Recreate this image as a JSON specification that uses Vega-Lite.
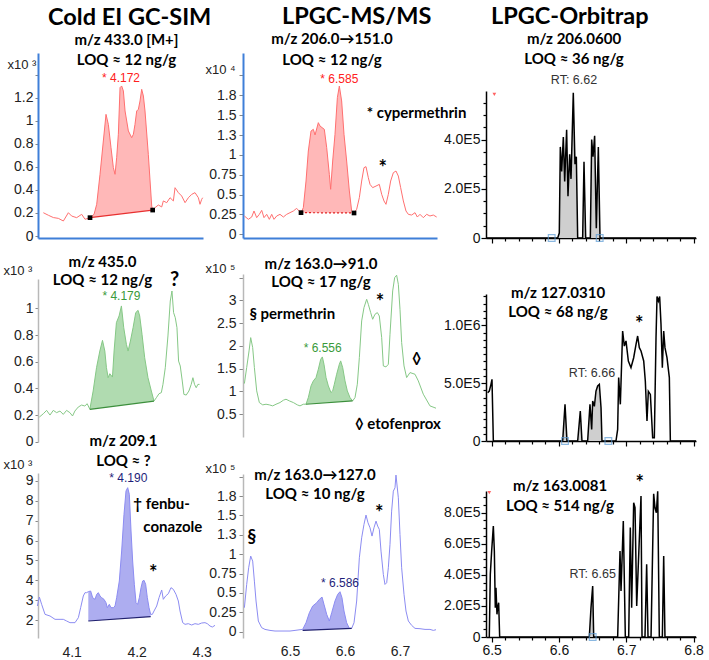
{
 "$schema": "https://vega.github.io/schema/vega-lite/v6.json",
 "background": "white",
 "padding": {"left": 3, "top": 4, "right": 2, "bottom": 2},
 "config": {
  "view": {"stroke": null},
  "axis": {"grid": false, "labelFont": "Liberation Sans", "labelFontSize": 14, "labelColor": "#222", "labelOverlap": false, "labelFlush": false, "titleFont": "Liberation Sans", "titleFontSize": 13, "titleFontWeight": "normal", "titleColor": "#222", "tickColor": "#888"},
  "axisY": {"titleAngle": 0, "titleAlign": "left", "titleBaseline": "alphabetic"},
  "title": {"font": "Lato", "fontWeight": "bold", "color": "#000", "anchor": "middle"}
 },
 "hconcat": [
  {"hconcat": [
   {"title": {"text": "Cold EI GC-SIM", "fontSize": 23.5, "frame": "group", "anchor": "start", "dx": 10, "offset": 4},
    "spacing": 41, "bounds": "flush",
    "vconcat": [
     {"width": 165, "height": 185,
      "title": {"text": ["m/z 433.0 [M+]", "LOQ ≈ 12 ng/g"], "fontSize": 15, "lineHeight": 20, "frame": "group", "dx": 6, "offset": -15},
      "data": {"values": [
       {"x":4.0564,"y":0.202},{"x":4.0641,"y":0.18},{"x":4.0718,"y":0.16},{"x":4.0795,"y":0.153},{"x":4.0872,"y":0.13},{"x":4.0949,"y":0.202},{"x":4.1,"y":0.173},{"x":4.1077,"y":0.159},{"x":4.1154,"y":0.188},{"x":4.1205,"y":0.145},
       {"x":4.1282,"y":0.159,"b":0.159},{"x":4.1344,"y":0.188,"b":0.163},{"x":4.1385,"y":0.275,"b":0.166},{"x":4.1436,"y":0.535,"b":0.17},{"x":4.1487,"y":0.824,"b":0.173},{"x":4.1528,"y":1.055,"b":0.176},{"x":4.1564,"y":0.968,"b":0.178},{"x":4.1605,"y":0.766,"b":0.181},{"x":4.1641,"y":0.593,"b":0.184},{"x":4.1667,"y":0.535,"b":0.185},{"x":4.1692,"y":0.679,"b":0.187},{"x":4.1718,"y":0.882,"b":0.189},{"x":4.1744,"y":1.287,"b":0.191},{"x":4.1769,"y":1.301,"b":0.192},{"x":4.1795,"y":1.258,"b":0.194},{"x":4.1821,"y":1.084,"b":0.196},{"x":4.1872,"y":0.911,"b":0.199},{"x":4.1923,"y":0.853,"b":0.203},{"x":4.1949,"y":0.882,"b":0.205},{"x":4.1974,"y":0.968,"b":0.206},{"x":4.2,"y":1.084,"b":0.208},{"x":4.2026,"y":1.099,"b":0.21},{"x":4.2051,"y":1.171,"b":0.212},{"x":4.2077,"y":1.272,"b":0.214},{"x":4.2103,"y":1.214,"b":0.215},{"x":4.2128,"y":1.084,"b":0.217},{"x":4.2179,"y":0.708,"b":0.22},{"x":4.2231,"y":0.26,"b":0.224},{"x":4.2246,"y":0.225,"b":0.225},
       {"x":4.2282,"y":0.246},{"x":4.2333,"y":0.269},{"x":4.2385,"y":0.252},{"x":4.241,"y":0.304},{"x":4.2462,"y":0.289},{"x":4.2513,"y":0.332},{"x":4.2564,"y":0.304},{"x":4.259,"y":0.419},{"x":4.2641,"y":0.376},{"x":4.2692,"y":0.347},{"x":4.2744,"y":0.289},{"x":4.2795,"y":0.332},{"x":4.2846,"y":0.361},{"x":4.2897,"y":0.376},{"x":4.2949,"y":0.332},{"x":4.2974,"y":0.275},{"x":4.3,"y":0.318},{"x":4.3015,"y":0.332}
      ]},
      "encoding": {
       "x": {"field": "x", "type": "quantitative", "scale": {"domain": [4.0482, 4.302], "nice": false, "zero": false}, "axis": {"title": null, "labels": false, "ticks": false, "domainColor": "#3f7fd8", "domainWidth": 2}},
       "y": {"field": "y", "type": "quantitative", "scale": {"domain": [-0.0173, 1.587], "nice": false, "zero": false}, "axis": {"title": "x10 ³", "titleX": -31, "titleY": 15, "values": [0,0.2,0.4,0.6,0.8,1,1.2,1.4], "format": "~g", "labelExpr": "datum.value > 1.3 ? '' : datum.label", "domainColor": "#3f7fd8", "domainWidth": 2, "tickSize": 3, "labelPadding": 2}}
      },
      "layer": [
       {"transform": [{"filter": "isValid(datum.b)"}], "mark": {"type": "area", "color": "#ffb0b0", "opacity": 0.9}, "encoding": {"y2": {"field": "b"}}},
       {"mark": {"type": "line", "color": "#ff7070", "strokeWidth": 1}, "encoding": {}},
       {"data": {"values": [{"x": 4.1282, "y": 0.159, "x2": 4.2246, "y2": 0.225}]}, "mark": {"type": "rule", "color": "#e83030", "strokeWidth": 1.2}, "encoding": {"x2": {"field": "x2"}, "y2": {"field": "y2"}}},
       {"data": {"values": [{"x": 4.1282, "y": 0.159}, {"x": 4.2246, "y": 0.225}]}, "mark": {"type": "square", "color": "#000", "size": 22, "opacity": 1}},
       {"data": {"values": [{"x": 4.1759, "y": 1.373, "t": "* 4.172"}]}, "mark": {"type": "text", "color": "#ff2020", "font": "Liberation Sans", "fontSize": 12}, "encoding": {"text": {"field": "t"}}}
      ]
     },
     {"vconcat": [
      {"width": 163, "height": 163,
       "title": {"text": ["m/z 435.0", "LOQ ≈ 12 ng/g"], "fontSize": 15, "lineHeight": 18, "frame": "group", "dx": -17, "offset": -24},
       "data": {"values": [
        {"x":4.0503,"y":0.185},{"x":4.0564,"y":0.21},{"x":4.0615,"y":0.235},{"x":4.0667,"y":0.2},{"x":4.0718,"y":0.235},{"x":4.0769,"y":0.218},{"x":4.0821,"y":0.23},{"x":4.0872,"y":0.205},{"x":4.0923,"y":0.235},{"x":4.0974,"y":0.218},{"x":4.1015,"y":0.193},{"x":4.1051,"y":0.23},{"x":4.1103,"y":0.26},{"x":4.1154,"y":0.275},{"x":4.1205,"y":0.268},{"x":4.1241,"y":0.285},
        {"x":4.1282,"y":0.243,"b":0.243},{"x":4.1333,"y":0.38,"b":0.246},{"x":4.1385,"y":0.555,"b":0.249},{"x":4.1436,"y":0.68,"b":0.253},{"x":4.1477,"y":0.76,"b":0.255},{"x":4.1513,"y":0.68,"b":0.257},{"x":4.1538,"y":0.555,"b":0.259},{"x":4.1564,"y":0.48,"b":0.261},{"x":4.159,"y":0.51,"b":0.262},{"x":4.1631,"y":0.485,"b":0.265},{"x":4.1656,"y":0.68,"b":0.266},{"x":4.1692,"y":0.893,"b":0.269},{"x":4.1733,"y":0.943,"b":0.271},{"x":4.1769,"y":1.018,"b":0.273},{"x":4.1805,"y":0.855,"b":0.276},{"x":4.1846,"y":0.73,"b":0.278},{"x":4.1872,"y":0.68,"b":0.28},{"x":4.1908,"y":0.755,"b":0.282},{"x":4.1949,"y":0.855,"b":0.285},{"x":4.199,"y":0.968,"b":0.287},{"x":4.2026,"y":0.985,"b":0.29},{"x":4.2051,"y":0.943,"b":0.291},{"x":4.2087,"y":0.805,"b":0.293},{"x":4.2128,"y":0.63,"b":0.296},{"x":4.2179,"y":0.48,"b":0.299},{"x":4.2231,"y":0.38,"b":0.302},{"x":4.2272,"y":0.305,"b":0.305},
        {"x":4.2308,"y":0.33},{"x":4.2349,"y":0.36},{"x":4.2385,"y":0.368},{"x":4.241,"y":0.43},{"x":4.2446,"y":0.555},{"x":4.2487,"y":0.793},{"x":4.2523,"y":1.055},{"x":4.2549,"y":1.13},{"x":4.2574,"y":0.968},{"x":4.26,"y":0.93},{"x":4.2626,"y":0.855},{"x":4.2651,"y":0.605},{"x":4.2677,"y":0.568},{"x":4.2708,"y":0.455},{"x":4.2733,"y":0.355},{"x":4.2769,"y":0.35},{"x":4.281,"y":0.38},{"x":4.2846,"y":0.43},{"x":4.2872,"y":0.48},{"x":4.2897,"y":0.43},{"x":4.2923,"y":0.405},{"x":4.2949,"y":0.43},{"x":4.2974,"y":0.43}
       ]},
       "encoding": {
        "x": {"field": "x", "type": "quantitative", "scale": {"domain": [4.0482, 4.2997], "nice": false, "zero": false}, "axis": null},
        "y": {"field": "y", "type": "quantitative", "scale": {"domain": [-0.002, 1.22], "nice": false, "zero": false}, "axis": {"title": "x10 ³", "titleX": -35, "titleY": -5, "values": [0,0.2,0.4,0.6,0.8,1], "format": "~g", "domainColor": "#b8b8b8", "domainWidth": 1.5, "tickSize": 3, "labelPadding": 2}}
       },
       "layer": [
        {"transform": [{"filter": "isValid(datum.b)"}], "mark": {"type": "area", "color": "#acd9ac", "opacity": 0.95}, "encoding": {"y2": {"field": "b"}}},
        {"mark": {"type": "line", "color": "#86c886", "strokeWidth": 1}, "encoding": {}},
        {"data": {"values": [{"x": 4.1282, "y": 0.243, "x2": 4.2272, "y2": 0.305}]}, "mark": {"type": "rule", "color": "#3c8f3c", "strokeWidth": 1.2}, "encoding": {"x2": {"field": "x2"}, "y2": {"field": "y2"}}},
        {"data": {"values": [{"x": 4.1769, "y": 1.09, "t": "* 4.179"}]}, "mark": {"type": "text", "color": "#3a9a3a", "font": "Liberation Sans", "fontSize": 12}, "encoding": {"text": {"field": "t"}}},
        {"data": {"values": [{"x": 4.259, "y": 1.21, "t": "?"}]}, "mark": {"type": "text", "color": "#000", "font": "Lato", "fontWeight": "bold", "fontSize": 20}, "encoding": {"text": {"field": "t"}}}
       ]
      },
      {"width": 177, "height": 165,
       "title": {"text": ["m/z 209.1", "LOQ ≈ ?"], "fontSize": 15, "lineHeight": 20, "frame": "group", "dx": -3, "offset": -11},
       "data": {"values": [
        {"x":4.0472,"y":2.705},{"x":4.0503,"y":3.158},{"x":4.0538,"y":2.789},{"x":4.059,"y":2.285},{"x":4.0667,"y":2.201},{"x":4.0744,"y":2.034},{"x":4.0821,"y":2.034},{"x":4.0872,"y":2.034},{"x":4.0923,"y":1.95},{"x":4.0974,"y":1.866},{"x":4.1051,"y":1.866},{"x":4.1103,"y":2.118},{"x":4.1138,"y":2.621},{"x":4.1179,"y":3.209},{"x":4.1205,"y":3.377},{"x":4.1231,"y":3.377},
        {"x":4.1256,"y":3.427,"b":1.95},{"x":4.1292,"y":3.46,"b":1.958},{"x":4.1323,"y":3.125,"b":1.965},{"x":4.1359,"y":3.041,"b":1.973},{"x":4.1385,"y":3.293,"b":1.979},{"x":4.141,"y":3.377,"b":1.985},{"x":4.1436,"y":3.209,"b":1.991},{"x":4.1462,"y":3.125,"b":1.997},{"x":4.1497,"y":3.041,"b":2.005},{"x":4.1528,"y":2.873,"b":2.012},{"x":4.1549,"y":2.621,"b":2.017},{"x":4.1579,"y":2.789,"b":2.023},{"x":4.1605,"y":2.621,"b":2.029},{"x":4.1641,"y":2.621,"b":2.038},{"x":4.1667,"y":2.705,"b":2.043},{"x":4.1692,"y":3.125,"b":2.049},{"x":4.1733,"y":3.964,"b":2.058},{"x":4.1769,"y":5.475,"b":2.067},{"x":4.1805,"y":7.321,"b":2.075},{"x":4.1836,"y":8.497,"b":2.082},{"x":4.1862,"y":8.664,"b":2.088},{"x":4.1887,"y":8.329,"b":2.093},{"x":4.1913,"y":6.482,"b":2.099},{"x":4.1938,"y":4.971,"b":2.105},{"x":4.1964,"y":3.796,"b":2.111},{"x":4.199,"y":2.873,"b":2.117},{"x":4.2015,"y":2.789,"b":2.123},{"x":4.2041,"y":3.125,"b":2.128},{"x":4.2067,"y":3.628,"b":2.134},{"x":4.2092,"y":3.964,"b":2.14},{"x":4.2113,"y":3.998,"b":2.145},{"x":4.2138,"y":3.796,"b":2.15},{"x":4.2164,"y":3.125,"b":2.156},{"x":4.219,"y":2.621,"b":2.162},{"x":4.2215,"y":2.285,"b":2.168},
        {"x":4.2241,"y":2.285},{"x":4.2267,"y":2.453},{"x":4.2308,"y":2.705},{"x":4.2344,"y":3.125},{"x":4.2385,"y":3.511},{"x":4.241,"y":3.041},{"x":4.2446,"y":3.209},{"x":4.2487,"y":3.326},{"x":4.2528,"y":3.628},{"x":4.2564,"y":3.544},{"x":4.2605,"y":3.293},{"x":4.2641,"y":2.957},{"x":4.2667,"y":2.453},{"x":4.2708,"y":1.866},{"x":4.2744,"y":1.782},{"x":4.2795,"y":1.815},{"x":4.2846,"y":1.748},{"x":4.2897,"y":1.815},{"x":4.2949,"y":1.782},{"x":4.3,"y":1.849},{"x":4.3051,"y":1.866},{"x":4.3087,"y":1.815},{"x":4.3128,"y":1.698},{"x":4.3164,"y":1.647},{"x":4.3205,"y":1.731}
       ]},
       "encoding": {
        "x": {"field": "x", "type": "quantitative", "scale": {"domain": [4.0482, 4.3205], "nice": false, "zero": false}, "axis": {"title": null, "values": [4.1, 4.2, 4.3], "format": "~g", "domain": false, "ticks": false, "tickSize": 0, "labelPadding": 7}},
        "y": {"field": "y", "type": "quantitative", "scale": {"domain": [1.094, 9.402], "nice": false, "zero": false}, "axis": {"title": "x10 ³", "titleX": -35, "titleY": -5, "values": [2,3,4,5,6,7,8,9], "format": "~g", "domainColor": "#b8b8b8", "domainWidth": 1.5, "tickSize": 3, "labelPadding": 2}}
       },
       "layer": [
        {"transform": [{"filter": "isValid(datum.b)"}], "mark": {"type": "area", "color": "#a9a9ef", "opacity": 0.95}, "encoding": {"y2": {"field": "b"}}},
        {"mark": {"type": "line", "color": "#8c8cf2", "strokeWidth": 1}, "encoding": {}},
        {"data": {"values": [{"x": 4.1256, "y": 1.95, "x2": 4.2215, "y2": 2.168}]}, "mark": {"type": "rule", "color": "#20206e", "strokeWidth": 1.2}, "encoding": {"x2": {"field": "x2"}, "y2": {"field": "y2"}}},
        {"data": {"values": [{"x": 4.1872, "y": 9.17, "t": "* 4.190"}]}, "mark": {"type": "text", "color": "#1e1e7a", "font": "Liberation Sans", "fontSize": 12}, "encoding": {"text": {"field": "t"}}},
        {"data": {"values": [{"x": 4.1949, "y": 7.825, "t": "† fenbu-"}, {"x": 4.2103, "y": 6.684, "t": "conazole"}]}, "mark": {"type": "text", "align": "left", "color": "#000", "font": "Lato", "fontWeight": "bold", "fontSize": 15}, "encoding": {"text": {"field": "t"}}},
        {"data": {"values": [{"x": 4.2256, "y": 4.55, "t": "*"}]}, "mark": {"type": "text", "color": "#000", "font": "Lato", "fontWeight": "bold", "fontSize": 20, "dy": 5}, "encoding": {"text": {"field": "t"}}}
       ]
      }
     ], "spacing": 31, "bounds": "flush"}
    ]
   },
   {"title": {"text": "LPGC-MS/MS", "fontSize": 23.5, "frame": "group", "anchor": "start", "dx": 39, "offset": 4},
    "spacing": 36, "bounds": "flush",
    "vconcat": [
     {"width": 194, "height": 185,
      "title": {"text": ["m/z 206.0→151.0", "LOQ ≈ 12 ng/g"], "fontSize": 15, "lineHeight": 21, "frame": "group", "dx": -8, "offset": -15},
      "data": {"values": [
       {"x":6.417,"y":0.231},{"x":6.4242,"y":0.189},{"x":6.4303,"y":0.218},{"x":6.4345,"y":0.294},{"x":6.4394,"y":0.21},{"x":6.4442,"y":0.252},{"x":6.4485,"y":0.302},{"x":6.4527,"y":0.21},{"x":6.4576,"y":0.252},{"x":6.4624,"y":0.189},{"x":6.4667,"y":0.252},{"x":6.4709,"y":0.189},{"x":6.4758,"y":0.231},{"x":6.4818,"y":0.252},{"x":6.4879,"y":0.218},{"x":6.4939,"y":0.252},{"x":6.5,"y":0.273},{"x":6.5061,"y":0.294},{"x":6.5121,"y":0.327},{"x":6.5164,"y":0.294},
       {"x":6.52,"y":0.273,"b":0.273},{"x":6.5242,"y":0.336,"b":0.273},{"x":6.5291,"y":0.671,"b":0.273},{"x":6.5333,"y":1.049,"b":0.272},{"x":6.5382,"y":1.301,"b":0.272},{"x":6.5424,"y":1.322,"b":0.272},{"x":6.5455,"y":1.251,"b":0.272},{"x":6.5515,"y":1.406,"b":0.271},{"x":6.5545,"y":1.364,"b":0.271},{"x":6.5624,"y":1.322,"b":0.271},{"x":6.5667,"y":1.091,"b":0.271},{"x":6.5715,"y":0.755,"b":0.27},{"x":6.5739,"y":0.567,"b":0.27},{"x":6.5776,"y":0.923,"b":0.27},{"x":6.5818,"y":1.259,"b":0.27},{"x":6.5861,"y":1.721,"b":0.27},{"x":6.5897,"y":1.867,"b":0.27},{"x":6.5939,"y":1.679,"b":0.27},{"x":6.5982,"y":1.259,"b":0.269},{"x":6.603,"y":0.923,"b":0.269},{"x":6.6079,"y":0.546,"b":0.269},{"x":6.6121,"y":0.294,"b":0.269},{"x":6.6164,"y":0.269,"b":0.269},
       {"x":6.6212,"y":0.315},{"x":6.6261,"y":0.462},{"x":6.6303,"y":0.671},{"x":6.6345,"y":0.839},{"x":6.6382,"y":0.852},{"x":6.6424,"y":0.713},{"x":6.6455,"y":0.629},{"x":6.6503,"y":0.588},{"x":6.6564,"y":0.608},{"x":6.6624,"y":0.629},{"x":6.6667,"y":0.504},{"x":6.6709,"y":0.42},{"x":6.6745,"y":0.378},{"x":6.6788,"y":0.504},{"x":6.683,"y":0.671},{"x":6.6879,"y":0.776},{"x":6.6927,"y":0.797},{"x":6.697,"y":0.734},{"x":6.7012,"y":0.588},{"x":6.7061,"y":0.42},{"x":6.7109,"y":0.294},{"x":6.7152,"y":0.252},{"x":6.7212,"y":0.243},{"x":6.7273,"y":0.273},{"x":6.7315,"y":0.218},{"x":6.7364,"y":0.252},{"x":6.7424,"y":0.21},{"x":6.7485,"y":0.252},{"x":6.7545,"y":0.231},{"x":6.7606,"y":0.243},{"x":6.7667,"y":0.218}
      ]},
      "encoding": {
       "x": {"field": "x", "type": "quantitative", "scale": {"domain": [6.4145, 6.7673], "nice": false, "zero": false}, "axis": {"title": null, "labels": false, "ticks": false, "domainColor": "#3f7fd8", "domainWidth": 2}},
       "y": {"field": "y", "type": "quantitative", "scale": {"domain": [-0.046, 2.283], "nice": false, "zero": false}, "axis": {"title": "x10 ⁴", "titleX": -38, "titleY": 20, "values": [0,0.25,0.5,0.75,1,1.25,1.5,1.75,2], "format": "~g", "labelExpr": "datum.value > 1.9 ? '' : datum.label", "domainColor": "#3f7fd8", "domainWidth": 2, "tickSize": 4, "labelPadding": 3}}
      },
      "layer": [
       {"transform": [{"filter": "isValid(datum.b)"}], "mark": {"type": "area", "color": "#ffb0b0", "opacity": 0.9}, "encoding": {"y2": {"field": "b"}}},
       {"mark": {"type": "line", "color": "#ff7070", "strokeWidth": 1}, "encoding": {}},
       {"data": {"values": [{"x": 6.52, "y": 0.273, "x2": 6.6164, "y2": 0.269}]}, "mark": {"type": "rule", "color": "#e02020", "strokeWidth": 1.2, "strokeDash": [2, 2]}, "encoding": {"x2": {"field": "x2"}, "y2": {"field": "y2"}}},
       {"data": {"values": [{"x": 6.52, "y": 0.273}, {"x": 6.6164, "y": 0.269}]}, "mark": {"type": "square", "color": "#000", "size": 22, "opacity": 1}},
       {"data": {"values": [{"x": 6.5897, "y": 1.951, "t": "* 6.585"}]}, "mark": {"type": "text", "color": "#ff2020", "font": "Liberation Sans", "fontSize": 12}, "encoding": {"text": {"field": "t"}}},
       {"data": {"values": [{"x": 6.6394, "y": 1.53, "t": "* cypermethrin"}]}, "mark": {"type": "text", "align": "left", "color": "#000", "font": "Lato", "fontWeight": "bold", "fontSize": 15}, "encoding": {"text": {"field": "t"}}},
       {"data": {"values": [{"x": 6.6685, "y": 0.88, "t": "*"}]}, "mark": {"type": "text", "color": "#000", "font": "Lato", "fontWeight": "bold", "fontSize": 20, "dy": 5}, "encoding": {"text": {"field": "t"}}}
      ]
     },
     {"vconcat": [
      {"width": 194, "height": 163,
       "title": {"text": ["m/z 163.0→91.0", "LOQ ≈ 17 ng/g"], "fontSize": 15, "lineHeight": 18, "frame": "group", "dx": -19, "offset": -28},
       "data": {"values": [
        {"x":6.417,"y":1.173},{"x":6.4212,"y":1.523},{"x":6.4255,"y":1.889},{"x":6.4285,"y":2.181},{"x":6.4321,"y":1.962},{"x":6.4352,"y":1.523},{"x":6.4394,"y":1.012},{"x":6.4442,"y":0.756},{"x":6.4503,"y":0.705},{"x":6.4564,"y":0.719},{"x":6.4624,"y":0.705},{"x":6.4685,"y":0.683},{"x":6.4745,"y":0.719},{"x":6.4818,"y":0.756},{"x":6.4879,"y":0.807},{"x":6.4927,"y":0.829},{"x":6.4988,"y":0.792},{"x":6.5061,"y":0.756},{"x":6.5133,"y":0.705},{"x":6.5182,"y":0.683},{"x":6.5242,"y":0.719},
        {"x":6.5291,"y":0.72,"b":0.719},{"x":6.5333,"y":0.865,"b":0.723},{"x":6.5382,"y":1.121,"b":0.727},{"x":6.5424,"y":1.231,"b":0.73},{"x":6.5473,"y":1.304,"b":0.735},{"x":6.5515,"y":1.487,"b":0.738},{"x":6.5558,"y":1.706,"b":0.742},{"x":6.5588,"y":1.757,"b":0.745},{"x":6.5618,"y":1.596,"b":0.747},{"x":6.5655,"y":1.304,"b":0.75},{"x":6.5697,"y":1.121,"b":0.754},{"x":6.5745,"y":0.975,"b":0.758},{"x":6.5776,"y":1.012,"b":0.761},{"x":6.5806,"y":1.158,"b":0.763},{"x":6.5848,"y":1.377,"b":0.767},{"x":6.5897,"y":1.596,"b":0.771},{"x":6.5921,"y":1.67,"b":0.773},{"x":6.5958,"y":1.523,"b":0.776},{"x":6.6,"y":1.231,"b":0.78},{"x":6.6042,"y":1.012,"b":0.784},{"x":6.6091,"y":0.865,"b":0.788},{"x":6.6139,"y":0.792,"b":0.792},
        {"x":6.6182,"y":0.865},{"x":6.6224,"y":1.158},{"x":6.6261,"y":1.743},{"x":6.6303,"y":2.547},{"x":6.6345,"y":2.839},{"x":6.6394,"y":3.022},{"x":6.6424,"y":2.912},{"x":6.6467,"y":2.73},{"x":6.6503,"y":2.583},{"x":6.6545,"y":2.693},{"x":6.6588,"y":2.73},{"x":6.6624,"y":2.656},{"x":6.6667,"y":2.181},{"x":6.6697,"y":1.56},{"x":6.6745,"y":1.538},{"x":6.6788,"y":1.596},{"x":6.6818,"y":2.254},{"x":6.6867,"y":3.205},{"x":6.6903,"y":3.497},{"x":6.6939,"y":3.55},{"x":6.697,"y":3.351},{"x":6.7,"y":2.803},{"x":6.703,"y":2.072},{"x":6.7073,"y":1.56},{"x":6.7121,"y":1.304},{"x":6.7182,"y":1.414},{"x":6.7273,"y":1.377},{"x":6.7333,"y":1.231},{"x":6.7424,"y":0.939},{"x":6.7545,"y":0.683},{"x":6.7655,"y":0.632}
       ]},
       "encoding": {
        "x": {"field": "x", "type": "quantitative", "scale": {"domain": [6.4145, 6.7673], "nice": false, "zero": false}, "axis": null},
        "y": {"field": "y", "type": "quantitative", "scale": {"domain": [0, 3.577], "nice": false, "zero": false}, "axis": {"title": "x10 ⁵", "titleX": -38, "titleY": -2, "values": [0.5,1,1.5,2,2.5,3,3.5], "format": "~g", "labelExpr": "datum.value > 3.2 ? '' : datum.label", "domainColor": "#b8b8b8", "domainWidth": 1.5, "tickSize": 4, "labelPadding": 3}}
       },
       "layer": [
        {"transform": [{"filter": "isValid(datum.b)"}], "mark": {"type": "area", "color": "#acd9ac", "opacity": 0.95}, "encoding": {"y2": {"field": "b"}}},
        {"mark": {"type": "line", "color": "#86c886", "strokeWidth": 1}, "encoding": {}},
        {"data": {"values": [{"x": 6.5291, "y": 0.719, "x2": 6.6139, "y2": 0.792}]}, "mark": {"type": "rule", "color": "#3c8f3c", "strokeWidth": 1.2}, "encoding": {"x2": {"field": "x2"}, "y2": {"field": "y2"}}},
        {"data": {"values": [{"x": 6.5594, "y": 1.962, "t": "* 6.556"}]}, "mark": {"type": "text", "color": "#3a9a3a", "font": "Liberation Sans", "fontSize": 12}, "encoding": {"text": {"field": "t"}}},
        {"data": {"values": [{"x": 6.4261, "y": 2.693, "t": "§ permethrin"}, {"x": 6.6182, "y": 0.28, "t": "◊ etofenprox"}]}, "mark": {"type": "text", "align": "left", "color": "#000", "font": "Lato", "fontWeight": "bold", "fontSize": 15}, "encoding": {"text": {"field": "t"}}},
        {"data": {"values": [{"x": 6.7303, "y": 1.706, "t": "◊"}]}, "mark": {"type": "text", "color": "#000", "font": "Lato", "fontWeight": "bold", "fontSize": 16}, "encoding": {"text": {"field": "t"}}},
        {"data": {"values": [{"x": 6.6636, "y": 3.058, "t": "*"}]}, "mark": {"type": "text", "color": "#000", "font": "Lato", "fontWeight": "bold", "fontSize": 20, "dy": 5}, "encoding": {"text": {"field": "t"}}}
       ]
      },
      {"width": 194, "height": 164,
       "title": {"text": ["m/z 163.0→127.0", "LOQ ≈ 10 ng/g"], "fontSize": 15, "lineHeight": 19, "frame": "group", "dx": -25, "offset": -40},
       "data": {"values": [
        {"x":6.417,"y":0.31},{"x":6.4212,"y":0.61},{"x":6.4248,"y":0.825},{"x":6.4285,"y":0.976},{"x":6.4321,"y":0.911},{"x":6.4352,"y":0.653},{"x":6.4382,"y":0.396},{"x":6.4424,"y":0.138},{"x":6.4485,"y":0.052},{"x":6.4545,"y":0.03},{"x":6.4636,"y":0.017},{"x":6.4727,"y":0.009},{"x":6.4818,"y":0.009},{"x":6.4909,"y":0.009},{"x":6.5,"y":0.009},{"x":6.5091,"y":0.017},{"x":6.5182,"y":0.026},
        {"x":6.523,"y":0.03,"b":0.017},{"x":6.5291,"y":0.116,"b":0.019},{"x":6.5352,"y":0.245,"b":0.021},{"x":6.5412,"y":0.331,"b":0.022},{"x":6.5485,"y":0.374,"b":0.024},{"x":6.5533,"y":0.417,"b":0.026},{"x":6.5582,"y":0.447,"b":0.027},{"x":6.5618,"y":0.353,"b":0.028},{"x":6.5667,"y":0.224,"b":0.03},{"x":6.5715,"y":0.138,"b":0.031},{"x":6.5758,"y":0.245,"b":0.032},{"x":6.5818,"y":0.396,"b":0.034},{"x":6.5867,"y":0.482,"b":0.036},{"x":6.5909,"y":0.516,"b":0.037},{"x":6.5945,"y":0.439,"b":0.038},{"x":6.5982,"y":0.267,"b":0.039},{"x":6.603,"y":0.116,"b":0.04},{"x":6.6079,"y":0.043,"b":0.042},{"x":6.6121,"y":0.043,"b":0.043},
        {"x":6.6164,"y":0.116},{"x":6.6212,"y":0.396},{"x":6.6261,"y":0.954},{"x":6.6303,"y":1.212},{"x":6.6345,"y":1.384},{"x":6.6382,"y":1.505},{"x":6.6418,"y":1.406},{"x":6.6455,"y":1.341},{"x":6.6491,"y":1.234},{"x":6.6527,"y":1.341},{"x":6.6564,"y":1.427},{"x":6.6594,"y":1.363},{"x":6.6624,"y":1.32},{"x":6.6655,"y":1.04},{"x":6.6697,"y":0.739},{"x":6.6727,"y":0.61},{"x":6.6758,"y":0.632},{"x":6.6788,"y":0.825},{"x":6.6818,"y":1.126},{"x":6.6848,"y":1.556},{"x":6.6879,"y":1.814},{"x":6.6909,"y":1.857},{"x":6.6927,"y":2.021},{"x":6.697,"y":1.728},{"x":6.7,"y":1.255},{"x":6.703,"y":0.825},{"x":6.7073,"y":0.482},{"x":6.7109,"y":0.267},{"x":6.7152,"y":0.138},{"x":6.7212,"y":0.082},{"x":6.7273,"y":0.043},{"x":6.7364,"y":0.039},{"x":6.7455,"y":0.03},{"x":6.7545,"y":0.03},{"x":6.7606,"y":0.017},{"x":6.7655,"y":0.026}
       ]},
       "encoding": {
        "x": {"field": "x", "type": "quantitative", "scale": {"domain": [6.4145, 6.7673], "nice": false, "zero": false}, "axis": {"title": null, "values": [6.5, 6.6, 6.7], "format": "~g", "domain": false, "ticks": false, "tickSize": 0, "labelPadding": 6}},
        "y": {"field": "y", "type": "quantitative", "scale": {"domain": [-0.081, 2.035], "nice": false, "zero": false}, "axis": {"title": "x10 ⁵", "titleX": -38, "titleY": -2, "values": [0,0.25,0.5,0.75,1,1.25,1.5,1.75,2], "format": "~g", "labelExpr": "datum.value > 1.9 ? '' : datum.label", "domainColor": "#b8b8b8", "domainWidth": 1.5, "tickSize": 4, "labelPadding": 3}}
       },
       "layer": [
        {"transform": [{"filter": "isValid(datum.b)"}], "mark": {"type": "area", "color": "#a9a9ef", "opacity": 0.95}, "encoding": {"y2": {"field": "b"}}},
        {"mark": {"type": "line", "color": "#8c8cf2", "strokeWidth": 1}, "encoding": {}},
        {"data": {"values": [{"x": 6.523, "y": 0.017, "x2": 6.6121, "y2": 0.043}]}, "mark": {"type": "rule", "color": "#20206e", "strokeWidth": 1.2}, "encoding": {"x2": {"field": "x2"}, "y2": {"field": "y2"}}},
        {"data": {"values": [{"x": 6.5909, "y": 0.632, "t": "* 6.586"}]}, "mark": {"type": "text", "color": "#1e1e7a", "font": "Liberation Sans", "fontSize": 12}, "encoding": {"text": {"field": "t"}}},
        {"data": {"values": [{"x": 6.4303, "y": 1.212, "t": "§"}]}, "mark": {"type": "text", "color": "#000", "font": "Lato", "fontWeight": "bold", "fontSize": 18}, "encoding": {"text": {"field": "t"}}},
        {"data": {"values": [{"x": 6.6624, "y": 1.578, "t": "*"}]}, "mark": {"type": "text", "color": "#000", "font": "Lato", "fontWeight": "bold", "fontSize": 20, "dy": 5}, "encoding": {"text": {"field": "t"}}}
       ]
      }
     ], "spacing": 37, "bounds": "flush"}
    ]
   }
  ], "spacing": -12, "bounds": "full"},
  {"title": {"text": "LPGC-Orbitrap", "fontSize": 23.5, "frame": "group", "anchor": "start", "dx": 5, "offset": 4},
   "spacing": 37, "bounds": "flush",
   "vconcat": [
    {"width": 210, "height": 1, "data": {"values": [{"x": 0}]}, "mark": {"type": "point", "opacity": 0}},
    {"vconcat": [
     {"width": 210, "height": 147,
      "title": {"text": ["m/z 206.0600", "LOQ ≈ 36 ng/g"], "fontSize": 15, "lineHeight": 20, "frame": "group", "dx": -17, "offset": 3, "subtitle": "RT: 6.62", "subtitleFont": "Liberation Sans", "subtitleFontSize": 12.5, "subtitleColor": "#333", "subtitlePadding": 7},
      "data": {"values": [
       {"x":6.492,"y":0},{"x":6.5981,"y":0,"b":0},{"x":6.6005,"y":20000,"b":0},{"x":6.602,"y":370000,"b":0},{"x":6.604,"y":270000,"b":0},{"x":6.6065,"y":410000,"b":0},{"x":6.6085,"y":230000,"b":0},{"x":6.6114,"y":440000,"b":0},{"x":6.6134,"y":170000,"b":0},{"x":6.6159,"y":340000,"b":0},{"x":6.6179,"y":240000,"b":0},{"x":6.6213,"y":590000,"b":0},{"x":6.6238,"y":300000,"b":0},{"x":6.6258,"y":330000,"b":0},{"x":6.6278,"y":0,"b":0},{"x":6.6352,"y":0,"b":0},{"x":6.6372,"y":310000,"b":0},{"x":6.6397,"y":0,"b":0},{"x":6.6466,"y":0,"b":0},{"x":6.6486,"y":400000,"b":0},{"x":6.6506,"y":330000,"b":0},{"x":6.653,"y":415000,"b":0},{"x":6.6555,"y":40000,"b":0},{"x":6.6585,"y":370000,"b":0},{"x":6.661,"y":0,"b":0},{"x":6.8036,"y":0}
      ]},
      "encoding": {
       "x": {"field": "x", "type": "quantitative", "scale": {"domain": [6.4916, 6.8036], "nice": false, "zero": false}, "axis": {"title": null, "values": [6.5,6.52,6.54,6.56,6.58,6.6,6.62,6.64,6.66,6.68,6.7,6.72,6.74,6.76,6.78,6.8], "labels": false, "tickSize": {"condition": {"test": "abs(datum.value*10-round(datum.value*10))<0.001", "value": 5}, "value": 3}, "domainColor": "#000", "domainWidth": 1.5, "tickColor": "#000", "tickWidth": 1.2}},
       "y": {"field": "y", "type": "quantitative", "scale": {"domain": [0, 597000], "nice": false, "zero": false}, "axis": {"title": null, "values": [0,50000,100000,150000,200000,250000,300000,350000,400000,450000,500000,550000], "labelExpr": "datum.value==0?'0':datum.value==200000?'2.0E5':datum.value==400000?'4.0E5':''", "tickSize": {"condition": {"test": "datum.value%200000==0", "value": 5}, "value": 3}, "domainColor": "#000", "domainWidth": 1.5, "tickColor": "#000", "tickWidth": 1.2, "labelPadding": 1, "labelColor": "#111"}}
      },
      "layer": [
       {"transform": [{"filter": "isValid(datum.b)"}], "mark": {"type": "area", "color": "#cfcfcf"}, "encoding": {"y2": {"field": "b"}}},
       {"mark": {"type": "line", "color": "#000", "strokeWidth": 1.5}, "encoding": {}},
       {"data": {"values": [{"x": 6.5892, "y": 0}, {"x": 6.6605, "y": 0}]}, "mark": {"type": "square", "filled": false, "color": "#5b9bd5", "size": 45, "strokeWidth": 1.2}},
       {"data": {"values": [{"x": 6.504, "y": 583000}]}, "mark": {"type": "point", "shape": "triangle-down", "filled": true, "color": "#ff2020", "size": 14}}
      ]
     },
     {"vconcat": [
      {"width": 210, "height": 147,
       "title": {"text": ["m/z 127.0310", "LOQ ≈ 68 ng/g"], "fontSize": 15, "lineHeight": 19, "frame": "group", "dx": -33, "offset": -31},
       "data": {"values": [
        {"x":6.4941,"y":418000},{"x":6.4965,"y":432000},{"x":6.499,"y":490000},{"x":6.5005,"y":533000},{"x":6.5025,"y":0},
        {"x":6.6055,"y":0,"b":0},{"x":6.609,"y":317000,"b":0},{"x":6.6119,"y":0,"b":0},{"x":6.6278,"y":0,"b":0},{"x":6.6317,"y":259000,"b":0},{"x":6.6342,"y":0,"b":0},{"x":6.6426,"y":0,"b":0},{"x":6.6461,"y":317000,"b":0},{"x":6.6486,"y":100000,"b":0},{"x":6.6501,"y":346000,"b":0},{"x":6.6526,"y":300000,"b":0},{"x":6.655,"y":432000,"b":0},{"x":6.6575,"y":476000,"b":0},{"x":6.66,"y":490000,"b":0},{"x":6.6625,"y":288000,"b":0},{"x":6.6639,"y":0,"b":0},{"x":6.6734,"y":0,"b":0},
        {"x":6.6847,"y":0},{"x":6.6872,"y":100000},{"x":6.6887,"y":548000},{"x":6.6912,"y":317000},{"x":6.6946,"y":951000},{"x":6.6971,"y":821000},{"x":6.6996,"y":865000},{"x":6.7031,"y":692000},{"x":6.707,"y":634000},{"x":6.711,"y":720000},{"x":6.7145,"y":836000},{"x":6.7169,"y":908000},{"x":6.7194,"y":807000},{"x":6.7219,"y":778000},{"x":6.7259,"y":692000},{"x":6.7283,"y":519000},{"x":6.7308,"y":173000},{"x":6.7328,"y":430000},{"x":6.7358,"y":403000},{"x":6.7392,"y":29000},{"x":6.7417,"y":29000},{"x":6.7442,"y":893000},{"x":6.7457,"y":1250000},{"x":6.7477,"y":1210000},{"x":6.7496,"y":1250000},{"x":6.7516,"y":1009000},{"x":6.7536,"y":634000},{"x":6.7556,"y":951000},{"x":6.7575,"y":807000},{"x":6.7605,"y":720000},{"x":6.764,"y":548000},{"x":6.7655,"y":0},{"x":6.8036,"y":0}
       ]},
       "encoding": {
        "x": {"field": "x", "type": "quantitative", "scale": {"domain": [6.4916, 6.8036], "nice": false, "zero": false}, "axis": {"title": null, "values": [6.5,6.52,6.54,6.56,6.58,6.6,6.62,6.64,6.66,6.68,6.7,6.72,6.74,6.76,6.78,6.8], "labels": false, "tickSize": {"condition": {"test": "abs(datum.value*10-round(datum.value*10))<0.001", "value": 5}, "value": 3}, "domainColor": "#000", "domainWidth": 1.5, "tickColor": "#000", "tickWidth": 1.2}},
        "y": {"field": "y", "type": "quantitative", "scale": {"domain": [0, 1271000], "nice": false, "zero": false}, "axis": {"title": null, "values": [0,62500,125000,187500,250000,312500,375000,437500,500000,562500,625000,687500,750000,812500,875000,937500,1000000,1062500,1125000,1187500,1250000], "labelExpr": "datum.value==0?'0':datum.value==500000?'5.0E5':datum.value==1000000?'1.0E6':''", "tickSize": {"condition": {"test": "datum.value%500000==0", "value": 5}, "value": 3}, "domainColor": "#000", "domainWidth": 1.5, "tickColor": "#000", "tickWidth": 1.2, "labelPadding": 1, "labelColor": "#111"}}
       },
       "layer": [
        {"transform": [{"filter": "isValid(datum.b)"}], "mark": {"type": "area", "color": "#cfcfcf"}, "encoding": {"y2": {"field": "b"}}},
        {"mark": {"type": "line", "color": "#000", "strokeWidth": 1.5}, "encoding": {}},
        {"data": {"values": [{"x": 6.609, "y": 0}, {"x": 6.6734, "y": 0}]}, "mark": {"type": "square", "filled": false, "color": "#5b9bd5", "size": 45, "strokeWidth": 1.2}},
        {"data": {"values": [{"x": 6.6491, "y": 585000, "t": "RT: 6.66"}]}, "mark": {"type": "text", "color": "#333", "font": "Liberation Sans", "fontSize": 12.5}, "encoding": {"text": {"field": "t"}}},
        {"data": {"values": [{"x": 6.7194, "y": 1050000, "t": "*"}]}, "mark": {"type": "text", "color": "#000", "font": "Lato", "fontWeight": "bold", "fontSize": 20, "dy": 5}, "encoding": {"text": {"field": "t"}}}
       ]
      },
      {"width": 210, "height": 146,
       "title": {"text": ["m/z 163.0081", "LOQ ≈ 514 ng/g"], "fontSize": 15, "lineHeight": 20, "frame": "group", "dx": -31, "offset": -40},
       "data": {"values": [
        {"x":6.4965,"y":0},{"x":6.498,"y":403000},{"x":6.5,"y":553000},{"x":6.5025,"y":714000},{"x":6.504,"y":553000},{"x":6.5054,"y":189000},{"x":6.5064,"y":317000},{"x":6.5079,"y":146000},{"x":6.5089,"y":189000},{"x":6.5104,"y":221000},{"x":6.5119,"y":0},
        {"x":6.6451,"y":0,"b":0},{"x":6.6476,"y":189000,"b":0},{"x":6.6501,"y":328000,"b":0},{"x":6.6516,"y":0,"b":0},{"x":6.6535,"y":0,"b":0},
        {"x":6.6872,"y":0},{"x":6.6907,"y":553000},{"x":6.6922,"y":296000},{"x":6.6956,"y":746000},{"x":6.6986,"y":0},{"x":6.7036,"y":0},{"x":6.706,"y":704000},{"x":6.708,"y":189000},{"x":6.711,"y":864000},{"x":6.713,"y":832000},{"x":6.7155,"y":200000},{"x":6.7219,"y":907000},{"x":6.7234,"y":0},{"x":6.7278,"y":0},{"x":6.7303,"y":468000},{"x":6.7323,"y":0},{"x":6.7368,"y":0},{"x":6.7407,"y":922000},{"x":6.7427,"y":830000},{"x":6.7447,"y":800000},{"x":6.7467,"y":938000},{"x":6.7491,"y":0},{"x":6.7536,"y":0},{"x":6.7556,"y":521000},{"x":6.7575,"y":0},{"x":6.8036,"y":0}
       ]},
       "encoding": {
        "x": {"field": "x", "type": "quantitative", "scale": {"domain": [6.4916, 6.8036], "nice": false, "zero": false}, "axis": {"title": null, "values": [6.5,6.52,6.54,6.56,6.58,6.6,6.62,6.64,6.66,6.68,6.7,6.72,6.74,6.76,6.78,6.8], "labelExpr": "abs(datum.value*10-round(datum.value*10))<0.001?format(datum.value,'.1f'):''", "tickSize": {"condition": {"test": "abs(datum.value*10-round(datum.value*10))<0.001", "value": 5}, "value": 3}, "domainColor": "#000", "domainWidth": 1.5, "tickColor": "#000", "tickWidth": 1.2, "labelPadding": 1, "labelColor": "#111"}},
        "y": {"field": "y", "type": "quantitative", "scale": {"domain": [0, 939500], "nice": false, "zero": false}, "axis": {"title": null, "values": [0,50000,100000,150000,200000,250000,300000,350000,400000,450000,500000,550000,600000,650000,700000,750000,800000,850000,900000], "labelExpr": "datum.value==0?'0':datum.value%200000==0?format(datum.value/100000,'.1f')+'E5':''", "tickSize": {"condition": {"test": "datum.value%200000==0", "value": 5}, "value": 3}, "domainColor": "#000", "domainWidth": 1.5, "tickColor": "#000", "tickWidth": 1.2, "labelPadding": 1, "labelColor": "#111"}}
       },
       "layer": [
        {"transform": [{"filter": "isValid(datum.b)"}], "mark": {"type": "area", "color": "#cfcfcf"}, "encoding": {"y2": {"field": "b"}}},
        {"mark": {"type": "line", "color": "#000", "strokeWidth": 1.5}, "encoding": {}},
        {"data": {"values": [{"x": 6.6501, "y": 0}]}, "mark": {"type": "square", "filled": false, "color": "#5b9bd5", "size": 45, "strokeWidth": 1.2}},
        {"data": {"values": [{"x": 6.4965, "y": 929000}]}, "mark": {"type": "point", "shape": "triangle-down", "filled": true, "color": "#ff2020", "size": 14}},
        {"data": {"values": [{"x": 6.6501, "y": 403000, "t": "RT: 6.65"}]}, "mark": {"type": "text", "color": "#333", "font": "Liberation Sans", "fontSize": 12.5}, "encoding": {"text": {"field": "t"}}},
        {"data": {"values": [{"x": 6.7199, "y": 1015000, "t": "*"}]}, "mark": {"type": "text", "color": "#000", "font": "Lato", "fontWeight": "bold", "fontSize": 20, "dy": 5}, "encoding": {"text": {"field": "t"}}}
       ]
      }
     ], "spacing": 50, "bounds": "flush"}
    ], "spacing": 56, "bounds": "flush"}
   ]
  }
 ],
 "spacing": -24,
 "bounds": "full"
}
